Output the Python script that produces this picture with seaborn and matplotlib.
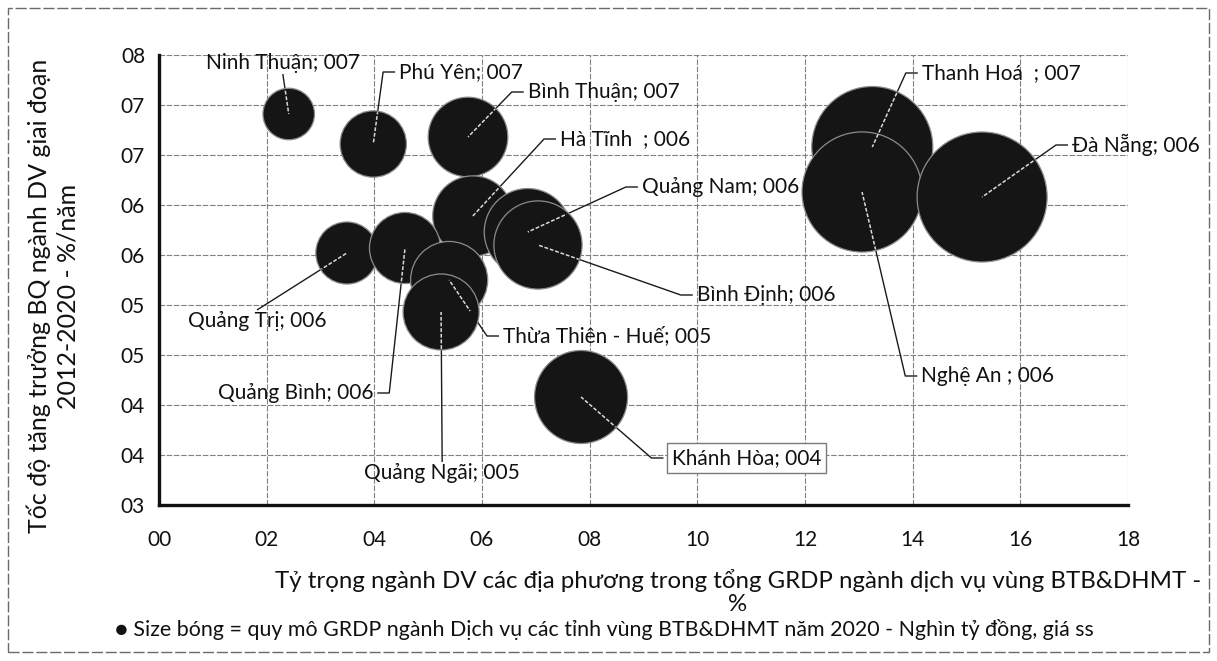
import numpy as np
import pandas as pd
import matplotlib
matplotlib.use("Agg")
import matplotlib.pyplot as plt
import seaborn as sns
from matplotlib.patches import Circle, Rectangle
from matplotlib.transforms import IdentityTransform

# ---------------- data ----------------
provinces = ["Ninh Thuận", "Phú Yên", "Bình Thuận", "Hà Tĩnh  ", "Quảng Nam", "Bình Định",
             "Quảng Trị", "Quảng Bình", "Thừa Thiên - Huế", "Quảng Ngãi", "Khánh Hòa",
             "Thanh Hoá  ", "Nghệ An ", "Đà Nẵng"]
share_pct = [2.41, 3.98, 5.74, 5.83, 6.85, 7.04, 3.49, 4.57, 5.39, 5.24, 7.84, 13.25, 13.06, 15.29]
growth_pct = [6.91, 6.61, 6.68, 5.89, 5.73, 5.60, 5.52, 5.57, 5.25, 4.93, 4.08, 6.58, 6.13, 6.08]
grdp_size = [11.3, 18.7, 27.0, 27.4, 32.2, 33.1, 16.4, 21.5, 25.3, 24.6, 36.8, 62.3, 61.4, 71.9]
x_ticks = [0, 2, 4, 6, 8, 10, 12, 14, 16, 18]
y_ticks = [3.0, 3.5, 4.0, 4.5, 5.0, 5.5, 6.0, 6.5, 7.0, 7.5]

x_title = "Tỷ trọng ngành DV các địa phương trong tổng GRDP ngành dịch vụ vùng BTB&DHMT -\n%"
y_title = "Tốc độ tăng trưởng BQ ngành DV giai đoạn\n2012-2020 - %/năm"
footnote = "● Size bóng = quy mô GRDP ngành Dịch vụ các tỉnh vùng BTB&DHMT năm 2020 - Nghìn tỷ đồng, giá ss"

# label layout: (x, y, horizontal anchor, side of leader line)
label_layout = {
    "Ninh Thuận": (2.30, 7.42, "center", "bottom"),
    "Phú Yên": (4.46, 7.33, "left", "left"),
    "Bình Thuận": (6.85, 7.13, "left", "left"),
    "Hà Tĩnh  ": (7.45, 6.66, "left", "left"),
    "Quảng Nam": (8.97, 6.18, "left", "left"),
    "Bình Định": (9.99, 5.10, "left", "left"),
    "Quảng Trị": (1.82, 4.84, "center", "top"),
    "Quảng Bình": (3.98, 4.12, "right", "right"),
    "Thừa Thiên - Huế": (6.39, 4.69, "left", "left"),
    "Quảng Ngãi": (5.26, 3.32, "center", "top"),
    "Khánh Hòa": (9.53, 3.47, "left", "left"),
    "Thanh Hoá  ": (14.17, 7.32, "left", "left"),
    "Nghệ An ": (14.16, 4.29, "left", "left"),
    "Đà Nẵng": (16.96, 6.60, "left", "left"),
}
boxed = {"Khánh Hòa"}

df = pd.DataFrame({"province": provinces, "share": share_pct,
                   "growth": growth_pct, "size": grdp_size})

# ---------------- figure ----------------
sns.set_theme(style="white")
FONT = ["Lato", "Noto Sans", "DejaVu Sans"]
plt.rcParams["font.family"] = FONT
DPI = 100
fig = plt.figure(figsize=(12.17, 6.61), dpi=DPI)
W, H = 1217, 661
ax = fig.add_axes([159 / W, 1 - 505 / H, (1128 - 159) / W, (505 - 55) / H])

SMAX = 8761.0
VMAX = max(grdp_size)
sns.scatterplot(data=df, x="share", y="growth", size="size",
                sizes=(0, SMAX), size_norm=(0, VMAX), legend=False,
                color="#151515", edgecolor="#8c8c8c", linewidth=0.9,
                alpha=1, ax=ax, zorder=2)

ax.set_xlim(0, 18)
ax.set_ylim(3.0, 7.5)
ax.set_xticks(x_ticks)
ax.set_yticks(y_ticks)
ax.set_xticklabels([f"{int(v):02d}" for v in x_ticks])
ax.set_yticklabels([f"{int(np.floor(v + 0.5)):02d}" for v in y_ticks])
ax.tick_params(axis="both", length=0, labelsize=15, colors="#111111")
ax.tick_params(axis="x", pad=18)
ax.tick_params(axis="y", pad=10)
ax.set_xlabel("")
ax.set_ylabel("")
ax.set_axisbelow(True)
ax.grid(True, color="#808080", linewidth=0.8, linestyle=(0, (5, 1.5)))
for side in ["top", "right"]:
    ax.spines[side].set_visible(False)
for side in ["left", "bottom"]:
    ax.spines[side].set_color("#111111")
    ax.spines[side].set_linewidth(2.4)

# ---------------- data labels + leader lines ----------------
LABEL_FS = 15
renderer = fig.canvas.get_renderer()
inv = ax.transData.inverted()
for prov, xv, yv, sv in zip(provinces, share_pct, growth_pct, grdp_size):
    tx, ty, ha, side = label_layout[prov]
    label = f"{prov}; {int(np.floor(yv + 0.5)):03d}"
    kw = {}
    extra = 0
    if prov in boxed:
        kw["bbox"] = dict(boxstyle="square,pad=0.22", fc="white", ec="#7a7a7a", lw=1.0)
        extra = 0.22 * LABEL_FS * DPI / 72
    t = ax.text(tx, ty, label, ha=ha, va="center", fontsize=LABEL_FS, color="#111111",
                zorder=5, clip_on=False, **kw)
    bb = t.get_window_extent(renderer=renderer)
    cx, cy = ax.transData.transform((xv, yv))
    ymid = (bb.y0 + bb.y1) / 2
    if side == "left":
        pts = [(bb.x0 - 4 - extra, ymid), (bb.x0 - 16 - extra, ymid)]
    elif side == "right":
        pts = [(bb.x1 + 4, ymid), (bb.x1 + 16, ymid)]
    elif side == "top":
        pts = [((bb.x0 + bb.x1) / 2, bb.y1 + 1)]
    else:
        pts = [((bb.x0 + bb.x1) / 2, bb.y0 - 1)]
    pts.append((cx, cy))
    dpts = inv.transform(np.array(pts))
    ax.plot(dpts[:, 0], dpts[:, 1], color="#1a1a1a", lw=1.0, zorder=1.5,
            solid_capstyle="butt", clip_on=False)
    # lighter part over the bubble
    r_px = np.sqrt(SMAX * sv / VMAX) / 2 * DPI / 72
    clip = Circle((cx, cy), r_px - 1, transform=IdentityTransform())
    ln, = ax.plot(dpts[:, 0], dpts[:, 1], color="#d9d9d9", lw=1.1, zorder=3,
                  linestyle=(0, (2.5, 1.2)))
    ln.set_clip_path(clip)

# ---------------- titles and footnote ----------------
fig.text(738 / W, 1 - 592 / H, x_title, ha="center", va="center", fontsize=17.3,
         color="#111111", linespacing=1.15)
fig.text(53 / W, 1 - 296 / H, y_title, ha="center", va="center", rotation=90,
         fontsize=18, color="#111111", linespacing=1.25, multialignment="center")
fig.text(115 / W, 1 - 630 / H, footnote, ha="left", va="center", fontsize=15.4,
         color="#111111", family=["Lato", "DejaVu Sans"])

# outer chart border
fig.patches.append(Rectangle((8 / W, 1 - 652 / H), (1209 - 8) / W, (652 - 8) / H,
                             transform=fig.transFigure, fill=False, ec="#6a6a6a",
                             lw=1.0, linestyle=(0, (8, 2))))

fig.savefig("out.png", dpi=DPI, facecolor="white")
